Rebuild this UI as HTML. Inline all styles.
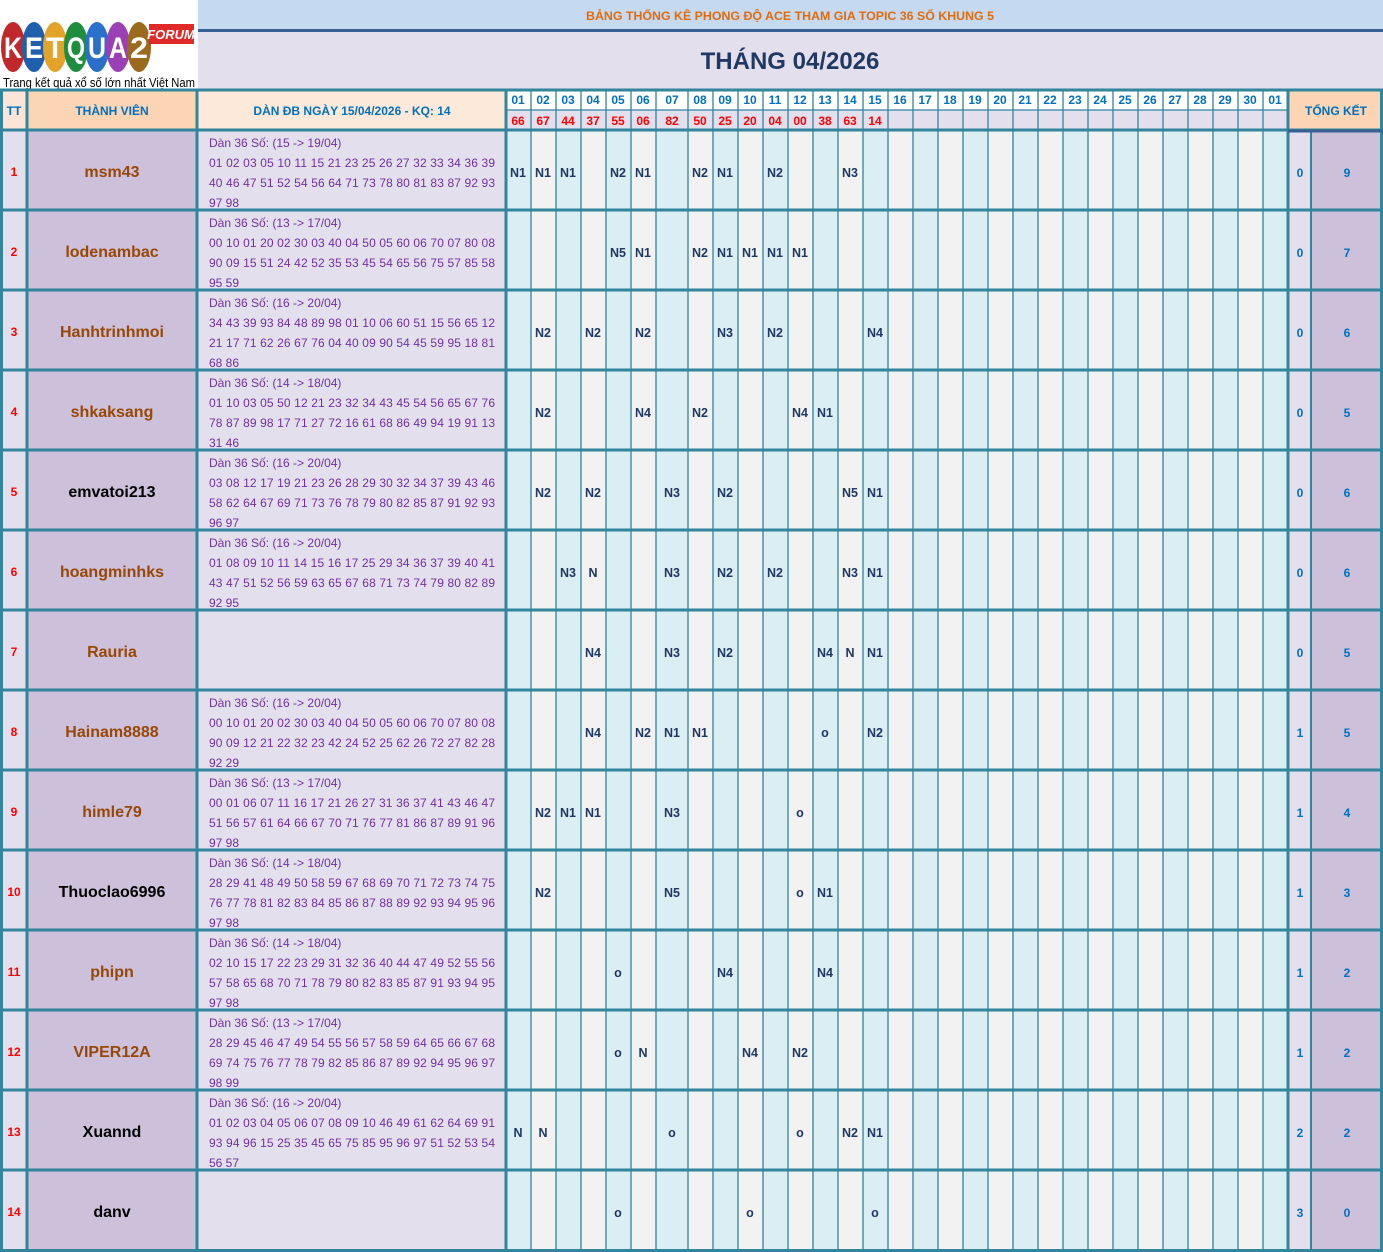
<!DOCTYPE html>
<html><head><meta charset="utf-8"><style>
html,body{margin:0;padding:0;background:#fff}
svg{display:block;font-family:"Liberation Sans","DejaVu Sans",sans-serif}
.d{fill:#7030A0;font-size:12px}
.n{font-size:16px;font-weight:bold;text-anchor:middle}
.tt{fill:#FF0000;font-size:12px;font-weight:bold;text-anchor:middle}
.c{fill:#1F3864;font-size:12.5px;font-weight:bold;text-anchor:middle}
.h{fill:#0070C0;font-size:12px;font-weight:bold;text-anchor:middle}
.r{fill:#FF0000;font-size:12px;font-weight:bold;text-anchor:middle}
</style></head><body>
<svg width="1383" height="1252" viewBox="0 0 1383 1252">
<rect width="1383" height="1252" fill="#fff"/>
<!-- title -->
<rect x="198" y="0" width="1185" height="30" fill="#C5D9F1"/>
<rect x="198" y="29" width="1185" height="3" fill="#366092"/>
<rect x="198" y="32" width="1185" height="58" fill="#E4DFEC"/>
<text x="790" y="20" text-anchor="middle" fill="#E26B0A" font-size="12" font-weight="bold" textLength="408" lengthAdjust="spacingAndGlyphs">BẢNG THỐNG KÊ PHONG ĐỘ ACE THAM GIA TOPIC 36 SỐ KHUNG 5</text>
<text x="790" y="69" text-anchor="middle" fill="#1F3864" font-size="24" font-weight="bold">THÁNG 04/2026</text>
<!-- logo -->
<g font-weight="bold" font-size="30" text-anchor="middle" fill="#fff">
<ellipse cx="13" cy="47" rx="12" ry="25" fill="#C0282C"/><text x="13" y="58" textLength="18" lengthAdjust="spacingAndGlyphs">K</text>
<ellipse cx="34" cy="47" rx="12" ry="25" fill="#1F5FAE"/><text x="34" y="58" textLength="18" lengthAdjust="spacingAndGlyphs">E</text>
<ellipse cx="55" cy="47" rx="12" ry="25" fill="#E3A22A"/><text x="55" y="58" textLength="18" lengthAdjust="spacingAndGlyphs">T</text>
<ellipse cx="76" cy="47" rx="12" ry="25" fill="#1E8E3E"/><text x="76" y="58" textLength="18" lengthAdjust="spacingAndGlyphs">Q</text>
<ellipse cx="97" cy="47" rx="12" ry="25" fill="#2A6FC9"/><text x="97" y="58" textLength="18" lengthAdjust="spacingAndGlyphs">U</text>
<ellipse cx="118" cy="47" rx="12" ry="25" fill="#9B3FB5"/><text x="118" y="58" textLength="18" lengthAdjust="spacingAndGlyphs">A</text>
<ellipse cx="139" cy="47" rx="12" ry="25" fill="#9A6A1E"/><text x="139" y="58" textLength="18" lengthAdjust="spacingAndGlyphs">2</text>
</g>
<rect x="149" y="24" width="45" height="20" fill="#E02A2A"/>
<text x="171" y="39" text-anchor="middle" fill="#fff" font-size="13" font-weight="bold" font-style="italic">FORUM</text>
<text x="3" y="87" font-size="13" fill="#000" textLength="192" lengthAdjust="spacingAndGlyphs">Trang kết quả xổ số lớn nhất Việt Nam</text>
<!-- header left -->
<rect x="0" y="90" width="27" height="40" fill="#FCE4D6"/>
<rect x="27" y="90" width="170" height="40" fill="#FCD5B4"/>
<rect x="197" y="90" width="309" height="40" fill="#FDE9D9"/>
<rect x="1288" y="90" width="95" height="40" fill="#FCD5B4"/>
<text x="14" y="115" class="h">TT</text>
<text x="112" y="115" class="h">THÀNH VIÊN</text>
<text x="352" y="115" class="h">DÀN ĐB NGÀY 15/04/2026 - KQ: 14</text>
<text x="1336" y="115" class="h">TỔNG KẾT</text>
<!-- body left columns -->
<rect x="0" y="130" width="27" height="1122" fill="#E4DFEC"/>
<rect x="27" y="130" width="170" height="1122" fill="#CCC0DA"/>
<rect x="197" y="130" width="309" height="1122" fill="#E4DFEC"/>
<rect x="1288" y="130" width="23" height="1122" fill="#E4DFEC"/>
<rect x="1311" y="130" width="72" height="1122" fill="#CCC0DA"/>
<!-- day header rows -->
<rect x="506" y="90" width="782" height="20" fill="#fff"/>
<rect x="506" y="110" width="782" height="20" fill="#E4DFEC"/>
<!-- stripes -->
<g>
<rect x="506" y="130" width="25" height="1122" fill="#DAEEF3"/><rect x="531" y="130" width="25" height="1122" fill="#F2F2F2"/>
<rect x="556" y="130" width="25" height="1122" fill="#DAEEF3"/><rect x="581" y="130" width="25" height="1122" fill="#F2F2F2"/>
<rect x="606" y="130" width="25" height="1122" fill="#DAEEF3"/><rect x="631" y="130" width="25" height="1122" fill="#F2F2F2"/>
<rect x="656" y="130" width="32" height="1122" fill="#DAEEF3"/><rect x="688" y="130" width="25" height="1122" fill="#F2F2F2"/>
<rect x="713" y="130" width="25" height="1122" fill="#DAEEF3"/><rect x="738" y="130" width="25" height="1122" fill="#F2F2F2"/>
<rect x="763" y="130" width="25" height="1122" fill="#DAEEF3"/><rect x="788" y="130" width="25" height="1122" fill="#F2F2F2"/>
<rect x="813" y="130" width="25" height="1122" fill="#DAEEF3"/><rect x="838" y="130" width="25" height="1122" fill="#F2F2F2"/>
<rect x="863" y="130" width="25" height="1122" fill="#DAEEF3"/><rect x="888" y="130" width="25" height="1122" fill="#F2F2F2"/>
<rect x="913" y="130" width="25" height="1122" fill="#DAEEF3"/><rect x="938" y="130" width="25" height="1122" fill="#F2F2F2"/>
<rect x="963" y="130" width="25" height="1122" fill="#DAEEF3"/><rect x="988" y="130" width="25" height="1122" fill="#F2F2F2"/>
<rect x="1013" y="130" width="25" height="1122" fill="#DAEEF3"/><rect x="1038" y="130" width="25" height="1122" fill="#F2F2F2"/>
<rect x="1063" y="130" width="25" height="1122" fill="#DAEEF3"/><rect x="1088" y="130" width="25" height="1122" fill="#F2F2F2"/>
<rect x="1113" y="130" width="25" height="1122" fill="#DAEEF3"/><rect x="1138" y="130" width="25" height="1122" fill="#F2F2F2"/>
<rect x="1163" y="130" width="25" height="1122" fill="#DAEEF3"/><rect x="1188" y="130" width="25" height="1122" fill="#F2F2F2"/>
<rect x="1213" y="130" width="25" height="1122" fill="#DAEEF3"/><rect x="1238" y="130" width="25" height="1122" fill="#F2F2F2"/>
<rect x="1263" y="130" width="25" height="1122" fill="#DAEEF3"/>
</g>
<!-- grid lines -->
<g stroke="#31859C" stroke-width="1.3">
<path d="M531 90V1252M556 90V1252M581 90V1252M606 90V1252M631 90V1252M656 90V1252M688 90V1252M713 90V1252M738 90V1252M763 90V1252M788 90V1252M813 90V1252M838 90V1252M863 90V1252M888 90V1252M913 90V1252M938 90V1252M963 90V1252M988 90V1252M1013 90V1252M1038 90V1252M1063 90V1252M1088 90V1252M1113 90V1252M1138 90V1252M1163 90V1252M1188 90V1252M1213 90V1252M1238 90V1252M1263 90V1252"/>
<path d="M506 110H1288"/>
</g>
<g stroke="#31859C" stroke-width="3">
<path d="M27 90V1252M197 90V1252M506 90V1252M1288 90V1252M1381.5 90V1252M1.5 90V1252"/>
<path d="M0 90H1383M0 130H1383M0 1250.5H1383"/>
<path d="M0 210H1383M0 290H1383M0 370H1383M0 450H1383M0 530H1383M0 610H1383M0 690H1383M0 770H1383M0 850H1383M0 930H1383M0 1010H1383M0 1090H1383M0 1170H1383"/>
</g>
<path d="M1311 130V1252" stroke="#31859C" stroke-width="2"/>
<path d="M1288 131H1383" stroke="#366092" stroke-width="3"/>
<!-- day headers -->
<g class="h">
<text x="518" y="104" class="h">01</text><text x="543" y="104" class="h">02</text><text x="568" y="104" class="h">03</text><text x="593" y="104" class="h">04</text><text x="618" y="104" class="h">05</text><text x="643" y="104" class="h">06</text><text x="672" y="104" class="h">07</text><text x="700" y="104" class="h">08</text><text x="725" y="104" class="h">09</text><text x="750" y="104" class="h">10</text><text x="775" y="104" class="h">11</text><text x="800" y="104" class="h">12</text><text x="825" y="104" class="h">13</text><text x="850" y="104" class="h">14</text><text x="875" y="104" class="h">15</text><text x="900" y="104" class="h">16</text><text x="925" y="104" class="h">17</text><text x="950" y="104" class="h">18</text><text x="975" y="104" class="h">19</text><text x="1000" y="104" class="h">20</text><text x="1025" y="104" class="h">21</text><text x="1050" y="104" class="h">22</text><text x="1075" y="104" class="h">23</text><text x="1100" y="104" class="h">24</text><text x="1125" y="104" class="h">25</text><text x="1150" y="104" class="h">26</text><text x="1175" y="104" class="h">27</text><text x="1200" y="104" class="h">28</text><text x="1225" y="104" class="h">29</text><text x="1250" y="104" class="h">30</text><text x="1275" y="104" class="h">01</text>
</g>
<text x="518" y="125" class="r">66</text><text x="543" y="125" class="r">67</text><text x="568" y="125" class="r">44</text><text x="593" y="125" class="r">37</text><text x="618" y="125" class="r">55</text><text x="643" y="125" class="r">06</text><text x="672" y="125" class="r">82</text><text x="700" y="125" class="r">50</text><text x="725" y="125" class="r">25</text><text x="750" y="125" class="r">20</text><text x="775" y="125" class="r">04</text><text x="800" y="125" class="r">00</text><text x="825" y="125" class="r">38</text><text x="850" y="125" class="r">63</text><text x="875" y="125" class="r">14</text>

<!-- rows: TT, names -->
<g>
<text x="14" y="176" class="tt">1</text><text x="14" y="256" class="tt">2</text><text x="14" y="336" class="tt">3</text><text x="14" y="416" class="tt">4</text><text x="14" y="496" class="tt">5</text><text x="14" y="576" class="tt">6</text><text x="14" y="656" class="tt">7</text><text x="14" y="736" class="tt">8</text><text x="14" y="816" class="tt">9</text><text x="14" y="896" class="tt">10</text><text x="14" y="976" class="tt">11</text><text x="14" y="1056" class="tt">12</text><text x="14" y="1136" class="tt">13</text><text x="14" y="1216" class="tt">14</text>
</g>
<g class="n">
<text x="112" y="177" class="n" fill="#974706">msm43</text>
<text x="112" y="257" class="n" fill="#974706">lodenambac</text>
<text x="112" y="337" class="n" fill="#974706">Hanhtrinhmoi</text>
<text x="112" y="417" class="n" fill="#974706">shkaksang</text>
<text x="112" y="497" class="n" fill="#000">emvatoi213</text>
<text x="112" y="577" class="n" fill="#974706">hoangminhks</text>
<text x="112" y="657" class="n" fill="#974706">Rauria</text>
<text x="112" y="737" class="n" fill="#974706">Hainam8888</text>
<text x="112" y="817" class="n" fill="#974706">himle79</text>
<text x="112" y="897" class="n" fill="#000">Thuoclao6996</text>
<text x="112" y="977" class="n" fill="#974706">phipn</text>
<text x="112" y="1057" class="n" fill="#974706">VIPER12A</text>
<text x="112" y="1137" class="n" fill="#000">Xuannd</text>
<text x="112" y="1217" class="n" fill="#000">danv</text>
</g>
<!-- dan text -->
<g class="d">
<text x="209" y="147" class="d">Dàn 36 Số: (15 -&gt; 19/04)</text>
<text x="209" y="167" class="d" textLength="286">01 02 03 05 10 11 15 21 23 25 26 27 32 33 34 36 39</text>
<text x="209" y="187" class="d" textLength="286">40 46 47 51 52 54 56 64 71 73 78 80 81 83 87 92 93</text>
<text x="209" y="207" class="d">97 98</text>

<text x="209" y="227" class="d">Dàn 36 Số: (13 -&gt; 17/04)</text>
<text x="209" y="247" class="d" textLength="286">00 10 01 20 02 30 03 40 04 50 05 60 06 70 07 80 08</text>
<text x="209" y="267" class="d" textLength="286">90 09 15 51 24 42 52 35 53 45 54 65 56 75 57 85 58</text>
<text x="209" y="287" class="d">95 59</text>

<text x="209" y="307" class="d">Dàn 36 Số: (16 -&gt; 20/04)</text>
<text x="209" y="327" class="d" textLength="286">34 43 39 93 84 48 89 98 01 10 06 60 51 15 56 65 12</text>
<text x="209" y="347" class="d" textLength="286">21 17 71 62 26 67 76 04 40 09 90 54 45 59 95 18 81</text>
<text x="209" y="367" class="d">68 86</text>

<text x="209" y="387" class="d">Dàn 36 Số: (14 -&gt; 18/04)</text>
<text x="209" y="407" class="d" textLength="286">01 10 03 05 50 12 21 23 32 34 43 45 54 56 65 67 76</text>
<text x="209" y="427" class="d" textLength="286">78 87 89 98 17 71 27 72 16 61 68 86 49 94 19 91 13</text>
<text x="209" y="447" class="d">31 46</text>

<text x="209" y="467" class="d">Dàn 36 Số: (16 -&gt; 20/04)</text>
<text x="209" y="487" class="d" textLength="286">03 08 12 17 19 21 23 26 28 29 30 32 34 37 39 43 46</text>
<text x="209" y="507" class="d" textLength="286">58 62 64 67 69 71 73 76 78 79 80 82 85 87 91 92 93</text>
<text x="209" y="527" class="d">96 97</text>

<text x="209" y="547" class="d">Dàn 36 Số: (16 -&gt; 20/04)</text>
<text x="209" y="567" class="d" textLength="286">01 08 09 10 11 14 15 16 17 25 29 34 36 37 39 40 41</text>
<text x="209" y="587" class="d" textLength="286">43 47 51 52 56 59 63 65 67 68 71 73 74 79 80 82 89</text>
<text x="209" y="607" class="d">92 95</text>

<text x="209" y="707" class="d">Dàn 36 Số: (16 -&gt; 20/04)</text>
<text x="209" y="727" class="d" textLength="286">00 10 01 20 02 30 03 40 04 50 05 60 06 70 07 80 08</text>
<text x="209" y="747" class="d" textLength="286">90 09 12 21 22 32 23 42 24 52 25 62 26 72 27 82 28</text>
<text x="209" y="767" class="d">92 29</text>

<text x="209" y="787" class="d">Dàn 36 Số: (13 -&gt; 17/04)</text>
<text x="209" y="807" class="d" textLength="286">00 01 06 07 11 16 17 21 26 27 31 36 37 41 43 46 47</text>
<text x="209" y="827" class="d" textLength="286">51 56 57 61 64 66 67 70 71 76 77 81 86 87 89 91 96</text>
<text x="209" y="847" class="d">97 98</text>

<text x="209" y="867" class="d">Dàn 36 Số: (14 -&gt; 18/04)</text>
<text x="209" y="887" class="d" textLength="286">28 29 41 48 49 50 58 59 67 68 69 70 71 72 73 74 75</text>
<text x="209" y="907" class="d" textLength="286">76 77 78 81 82 83 84 85 86 87 88 89 92 93 94 95 96</text>
<text x="209" y="927" class="d">97 98</text>

<text x="209" y="947" class="d">Dàn 36 Số: (14 -&gt; 18/04)</text>
<text x="209" y="967" class="d" textLength="286">02 10 15 17 22 23 29 31 32 36 40 44 47 49 52 55 56</text>
<text x="209" y="987" class="d" textLength="286">57 58 65 68 70 71 78 79 80 82 83 85 87 91 93 94 95</text>
<text x="209" y="1007" class="d">97 98</text>

<text x="209" y="1027" class="d">Dàn 36 Số: (13 -&gt; 17/04)</text>
<text x="209" y="1047" class="d" textLength="286">28 29 45 46 47 49 54 55 56 57 58 59 64 65 66 67 68</text>
<text x="209" y="1067" class="d" textLength="286">69 74 75 76 77 78 79 82 85 86 87 89 92 94 95 96 97</text>
<text x="209" y="1087" class="d">98 99</text>

<text x="209" y="1107" class="d">Dàn 36 Số: (16 -&gt; 20/04)</text>
<text x="209" y="1127" class="d" textLength="286">01 02 03 04 05 06 07 08 09 10 46 49 61 62 64 69 91</text>
<text x="209" y="1147" class="d" textLength="286">93 94 96 15 25 35 45 65 75 85 95 96 97 51 52 53 54</text>
<text x="209" y="1167" class="d">56 57</text>
</g>
<!-- results -->
<g>
<text x="518" y="177" class="c">N1</text><text x="543" y="177" class="c">N1</text><text x="568" y="177" class="c">N1</text><text x="618" y="177" class="c">N2</text><text x="643" y="177" class="c">N1</text><text x="700" y="177" class="c">N2</text><text x="725" y="177" class="c">N1</text><text x="775" y="177" class="c">N2</text><text x="850" y="177" class="c">N3</text>
<text x="618" y="257" class="c">N5</text><text x="643" y="257" class="c">N1</text><text x="700" y="257" class="c">N2</text><text x="725" y="257" class="c">N1</text><text x="750" y="257" class="c">N1</text><text x="775" y="257" class="c">N1</text><text x="800" y="257" class="c">N1</text>
<text x="543" y="337" class="c">N2</text><text x="593" y="337" class="c">N2</text><text x="643" y="337" class="c">N2</text><text x="725" y="337" class="c">N3</text><text x="775" y="337" class="c">N2</text><text x="875" y="337" class="c">N4</text>
<text x="543" y="417" class="c">N2</text><text x="643" y="417" class="c">N4</text><text x="700" y="417" class="c">N2</text><text x="800" y="417" class="c">N4</text><text x="825" y="417" class="c">N1</text>
<text x="543" y="497" class="c">N2</text><text x="593" y="497" class="c">N2</text><text x="672" y="497" class="c">N3</text><text x="725" y="497" class="c">N2</text><text x="850" y="497" class="c">N5</text><text x="875" y="497" class="c">N1</text>
<text x="568" y="577" class="c">N3</text><text x="593" y="577" class="c">N</text><text x="672" y="577" class="c">N3</text><text x="725" y="577" class="c">N2</text><text x="775" y="577" class="c">N2</text><text x="850" y="577" class="c">N3</text><text x="875" y="577" class="c">N1</text>
<text x="593" y="657" class="c">N4</text><text x="672" y="657" class="c">N3</text><text x="725" y="657" class="c">N2</text><text x="825" y="657" class="c">N4</text><text x="850" y="657" class="c">N</text><text x="875" y="657" class="c">N1</text>
<text x="593" y="737" class="c">N4</text><text x="643" y="737" class="c">N2</text><text x="672" y="737" class="c">N1</text><text x="700" y="737" class="c">N1</text><text x="825" y="737" class="c">o</text><text x="875" y="737" class="c">N2</text>
<text x="543" y="817" class="c">N2</text><text x="568" y="817" class="c">N1</text><text x="593" y="817" class="c">N1</text><text x="672" y="817" class="c">N3</text><text x="800" y="817" class="c">o</text>
<text x="543" y="897" class="c">N2</text><text x="672" y="897" class="c">N5</text><text x="800" y="897" class="c">o</text><text x="825" y="897" class="c">N1</text>
<text x="618" y="977" class="c">o</text><text x="725" y="977" class="c">N4</text><text x="825" y="977" class="c">N4</text>
<text x="618" y="1057" class="c">o</text><text x="643" y="1057" class="c">N</text><text x="750" y="1057" class="c">N4</text><text x="800" y="1057" class="c">N2</text>
<text x="518" y="1137" class="c">N</text><text x="543" y="1137" class="c">N</text><text x="672" y="1137" class="c">o</text><text x="800" y="1137" class="c">o</text><text x="850" y="1137" class="c">N2</text><text x="875" y="1137" class="c">N1</text>
<text x="618" y="1217" class="c">o</text><text x="750" y="1217" class="c">o</text><text x="875" y="1217" class="c">o</text>
</g>
<!-- totals -->
<g>
<text x="1300" y="177" class="h">0</text><text x="1347" y="177" class="h">9</text>
<text x="1300" y="257" class="h">0</text><text x="1347" y="257" class="h">7</text>
<text x="1300" y="337" class="h">0</text><text x="1347" y="337" class="h">6</text>
<text x="1300" y="417" class="h">0</text><text x="1347" y="417" class="h">5</text>
<text x="1300" y="497" class="h">0</text><text x="1347" y="497" class="h">6</text>
<text x="1300" y="577" class="h">0</text><text x="1347" y="577" class="h">6</text>
<text x="1300" y="657" class="h">0</text><text x="1347" y="657" class="h">5</text>
<text x="1300" y="737" class="h">1</text><text x="1347" y="737" class="h">5</text>
<text x="1300" y="817" class="h">1</text><text x="1347" y="817" class="h">4</text>
<text x="1300" y="897" class="h">1</text><text x="1347" y="897" class="h">3</text>
<text x="1300" y="977" class="h">1</text><text x="1347" y="977" class="h">2</text>
<text x="1300" y="1057" class="h">1</text><text x="1347" y="1057" class="h">2</text>
<text x="1300" y="1137" class="h">2</text><text x="1347" y="1137" class="h">2</text>
<text x="1300" y="1217" class="h">3</text><text x="1347" y="1217" class="h">0</text>
</g>
</svg>
</body></html>
